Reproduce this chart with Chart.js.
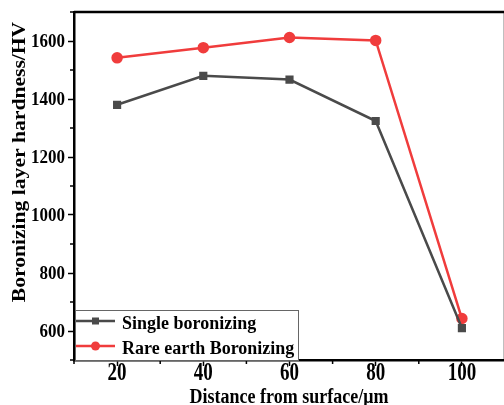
<!DOCTYPE html>
<html><head><meta charset="utf-8">
<script src="https://cdn.jsdelivr.net/npm/chart.js@4/dist/chart.umd.min.js"></script>
<style>html,body{margin:0;padding:0;background:#fff;overflow:hidden;width:504px;height:405px}canvas{display:block}</style>
</head><body>
<canvas id="c" width="512" height="405"></canvas>
<script>
const distances = [20, 40, 60, 80, 100];
const singleBoronizing = [1380, 1480, 1467, 1324, 610];
const rareEarthBoronizing = [1542, 1577, 1612, 1602, 643];
const seriesNames = ['Single boronizing', 'Rare earth Boronizing'];
const xTicks = [20, 40, 60, 80, 100];
const yTicks = [600, 800, 1000, 1200, 1400, 1600];
const xMinor = [10, 30, 50, 70, 90, 110];
const yMinor = [500, 700, 900, 1100, 1300, 1500, 1700];
const xTitle = 'Distance from surface/μm';
const yTitle = 'Boronizing layer hardness/HV';

const FONT = "'Liberation Serif', 'Times New Roman', serif";
const GRAY = '#4a4a4a', RED = '#f03c3c';

function stretchText(ctx, text, x, y, size, sy, align, rot) {
  ctx.save();
  ctx.translate(x, y);
  if (rot) ctx.rotate(rot);
  ctx.scale(rot ? sy : 1, rot ? 1 : sy);
  ctx.font = 'bold ' + size + 'px ' + FONT;
  ctx.fillStyle = '#000';
  ctx.textAlign = align;
  ctx.textBaseline = 'middle';
  ctx.fillText(text, 0, 0);
  ctx.restore();
}

const frame = {
  id: 'frame',
  beforeDatasetsDraw(chart) {
    const {ctx, chartArea: a, scales} = chart;
    ctx.save();
    ctx.strokeStyle = '#000';
    ctx.lineWidth = 1.5;
    ctx.beginPath();
    xMinor.forEach(v => { const x = scales.x.getPixelForValue(v); ctx.moveTo(x, a.bottom); ctx.lineTo(x, a.bottom + 4); });
    yMinor.forEach(v => { const y = scales.y.getPixelForValue(v); ctx.moveTo(a.left, y); ctx.lineTo(a.left - 4, y); });
    ctx.stroke();
    ctx.lineWidth = 2.5;
    ctx.beginPath();
    ctx.moveTo(a.left, a.top); ctx.lineTo(a.right, a.top); ctx.lineTo(a.right, a.bottom);
    ctx.stroke();
    ctx.restore();
    // tick labels
    xTicks.forEach(v => stretchText(ctx, String(v), scales.x.getPixelForValue(v), 374, 19, 1.3, 'center'));
    yTicks.forEach(v => stretchText(ctx, String(v), 65, scales.y.getPixelForValue(v) + 1, 17, 1.15, 'right'));
    stretchText(ctx, xTitle, 289, 397, 18, 1.2, 'center');
    stretchText(ctx, yTitle, 20, 162, 18, 1.2, 'center', -Math.PI / 2);
  },
  afterDatasetsDraw(chart) {
    const {ctx, chartArea: a} = chart;
    const bx = a.left + 1, by = 310, bw = 223, bh = a.bottom - 310;
    ctx.save();
    ctx.fillStyle = '#fff';
    ctx.fillRect(bx, by, bw, bh);
    ctx.strokeStyle = '#666';
    ctx.lineWidth = 1;
    ctx.strokeRect(bx + 0.5, by + 0.5, bw, bh);
    ctx.restore();
    chart.data.datasets.forEach((ds, i) => {
      const cy = 321 + i * 25;
      ctx.save();
      ctx.strokeStyle = ds.borderColor;
      ctx.lineWidth = 2.5;
      ctx.beginPath(); ctx.moveTo(a.left + 2, cy); ctx.lineTo(a.left + 41, cy); ctx.stroke();
      ctx.fillStyle = ds.borderColor;
      if (ds.pointStyle === 'rect') { ctx.fillRect(a.left + 18, cy - 3.5, 7, 7); }
      else { ctx.beginPath(); ctx.arc(a.left + 21.5, cy, 4.5, 0, Math.PI * 2); ctx.fill(); }
      ctx.restore();
      stretchText(ctx, ds.label, a.left + 48, cy + 3, 18, 1.1, 'left');
    });
  }
};

new Chart(document.getElementById('c'), {
  type: 'line',
  data: {
    datasets: [
      { label: seriesNames[0], data: distances.map((d, i) => ({x: d, y: singleBoronizing[i]})),
        borderColor: GRAY, backgroundColor: GRAY, borderWidth: 2.5, pointStyle: 'rect', pointRadius: 4, pointHoverRadius: 4, tension: 0 },
      { label: seriesNames[1], data: distances.map((d, i) => ({x: d, y: rareEarthBoronizing[i]})),
        borderColor: RED, backgroundColor: RED, borderWidth: 2.5, pointStyle: 'circle', pointRadius: 4.5, pointHoverRadius: 4.5, tension: 0 }
    ]
  },
  options: {
    responsive: false, animation: false,
    layout: { padding: { top: 12, right: 5, left: 0, bottom: 0 } },
    plugins: { legend: { display: false }, tooltip: { enabled: false } },
    scales: {
      x: {
        type: 'linear', min: 10, max: 110,
        afterBuildTicks: s => { s.ticks = xTicks.map(v => ({value: v})); },
        afterFit: s => { s.height = 45; },
        grid: { drawOnChartArea: false, drawTicks: true, tickLength: 6, tickColor: '#000', tickWidth: 1.5 },
        border: { display: true, color: '#000', width: 2.5 },
        ticks: { display: false },
        title: { display: false }
      },
      y: {
        type: 'linear', min: 500, max: 1700,
        afterBuildTicks: s => { s.ticks = yTicks.map(v => ({value: v})); },
        afterFit: s => { s.width = 74; },
        grid: { drawOnChartArea: false, drawTicks: true, tickLength: 6, tickColor: '#000', tickWidth: 1.5 },
        border: { display: true, color: '#000', width: 2.5 },
        ticks: { display: false },
        title: { display: false }
      }
    }
  },
  plugins: [frame]
});
</script>
</body></html>
